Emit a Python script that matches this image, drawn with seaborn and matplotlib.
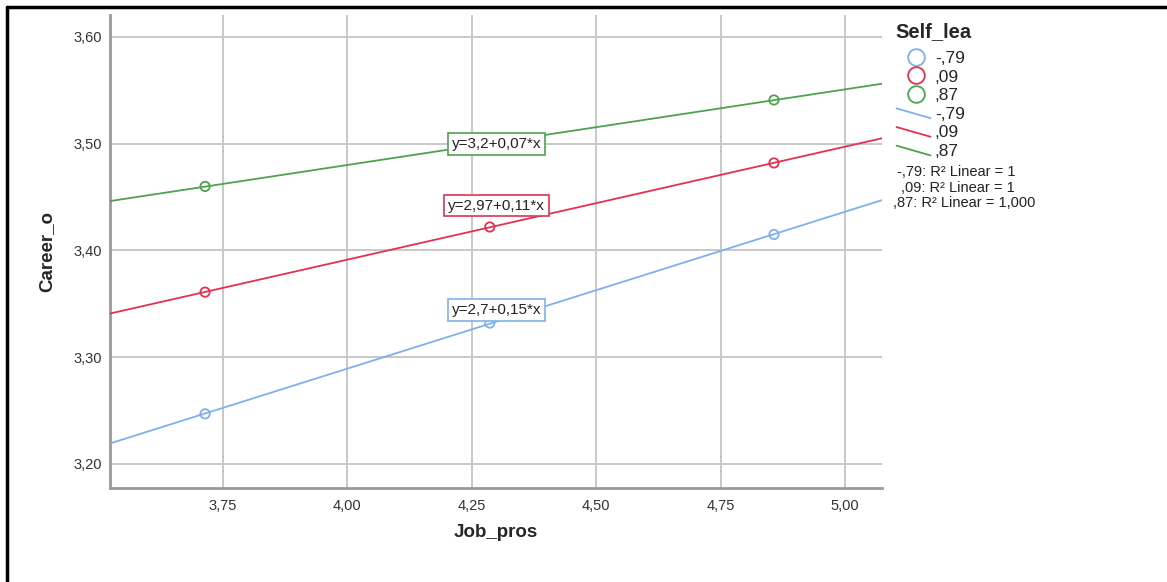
import numpy as np
import pandas as pd
import matplotlib
matplotlib.use("Agg")
import matplotlib.pyplot as plt
import seaborn as sns
from matplotlib.ticker import FuncFormatter
from matplotlib.legend_handler import HandlerLine2D
from matplotlib.lines import Line2D

# values
self_lea = ['-,79', ',09', ',87']
job_pros = [3.714, 4.286, 4.857]
career_low = [3.247, 3.332, 3.415]
career_mid = [3.361, 3.422, 3.482]
career_high = [3.460, 3.500, 3.541]
eq_labels = ['y=2,7+0,15*x', 'y=2,97+0,11*x', 'y=3,2+0,07*x']
r2_labels = ['-,79: R² Linear = 1', ',09: R² Linear = 1', ',87: R² Linear = 1,000']
colors = ['#7eb0ec', '#e5304f', '#4ea24e']

df = pd.DataFrame({
    'Job_pros': job_pros * 3,
    'Career_o': career_low + career_mid + career_high,
    'Self_lea': [s for s in self_lea for _ in job_pros],
})
palette = dict(zip(self_lea, colors))

xlim = (3.523, 5.074)
ylim = (3.1775, 3.6206)

sns.set_style("white")
plt.rcParams['font.family'] = ['Liberation Sans', 'DejaVu Sans']

fig = plt.figure(figsize=(11.67, 5.82), dpi=100)
ax = fig.add_axes([110 / 1167, 1 - 488 / 582, (882 - 110) / 1167, (488 - 15) / 582])

# fit lines across the whole x range
xs = np.array(xlim)
fit_rows = []
for lvl in self_lea:
    sub = df[df['Self_lea'] == lvl]
    b, a = np.polyfit(sub['Job_pros'], sub['Career_o'], 1)
    for x in xs:
        fit_rows.append({'Job_pros': x, 'Career_o': a + b * x, 'Self_lea': lvl})
fit_df = pd.DataFrame(fit_rows)

sns.lineplot(data=fit_df, x='Job_pros', y='Career_o', hue='Self_lea', palette=palette,
             linewidth=1.3, legend=False, ax=ax, zorder=3)
sns.scatterplot(data=df, x='Job_pros', y='Career_o', hue='Self_lea', palette=palette,
                marker='o', s=45, linewidth=1.3, legend=False, ax=ax, zorder=4)
# open circles
for coll in ax.collections:
    fc = coll.get_facecolors()
    coll.set_edgecolors(fc)
    coll.set_facecolors('none')

ax.set_xlim(xlim)
ax.set_ylim(ylim)
ax.set_xticks([3.75, 4.0, 4.25, 4.5, 4.75, 5.0])
ax.set_yticks([3.2, 3.3, 3.4, 3.5, 3.6])
comma = FuncFormatter(lambda v, p: f"{v:.2f}".replace('.', ','))
ax.xaxis.set_major_formatter(comma)
ax.yaxis.set_major_formatter(comma)
ax.tick_params(axis='both', length=0, labelsize=10.5, colors='#333333')
ax.tick_params(axis='x', pad=8)
ax.tick_params(axis='y', pad=6)
ax.grid(True, color='#c8c8c8', linewidth=1.4)
ax.set_axisbelow(True)
for side in ['top', 'right']:
    ax.spines[side].set_visible(False)
for side in ['left', 'bottom']:
    ax.spines[side].set_color('#999999')
    ax.spines[side].set_linewidth(2)

ax.set_xlabel('Job_pros', fontsize=13.5, fontweight='bold', labelpad=8)
ax.set_ylabel('Career_o', fontsize=13.5, fontweight='bold', labelpad=13)

# equation boxes
eq_y = [3.344, 3.442, 3.4998]
for lbl, yy, c in zip(eq_labels, eq_y, colors):
    ax.text(4.30, yy, lbl, ha='center', va='center', fontsize=11, color='#222222', zorder=6,
            bbox=dict(boxstyle='square,pad=0.25', facecolor='white', edgecolor=c, linewidth=1.2))


class DiagHandler(HandlerLine2D):
    def create_artists(self, legend, orig_handle, xdescent, ydescent, width, height, fontsize, trans):
        line = Line2D([-xdescent - width * 0.15, -xdescent + width * 1.0],
                      [height * 0.85, height * 0.05],
                      color=orig_handle.get_color(), linewidth=1.3, transform=trans)
        return [line]


handles = []
labels = []
for lvl, c in zip(self_lea, colors):
    handles.append(Line2D([], [], marker='o', linestyle='none', markerfacecolor='none',
                          markeredgecolor=c, markersize=12, markeredgewidth=1.3))
    labels.append(lvl)
diag_handles = []
for lvl, c in zip(self_lea, colors):
    h = Line2D([], [], color=c, linewidth=1.3)
    diag_handles.append(h)
    handles.append(h)
    labels.append(lvl)

leg = fig.legend(handles, labels, title='Self_lea', loc='upper left',
                 bbox_to_anchor=(901 / 1167, 1 - 22 / 582), frameon=False,
                 fontsize=12.5, title_fontsize=14.5, handlelength=1.7, handletextpad=0.25,
                 labelspacing=0.2, borderaxespad=0, borderpad=0,
                 handler_map={h: DiagHandler() for h in diag_handles})
leg.get_title().set_fontweight('bold')
leg._legend_box.align = 'left'
leg._legend_box.sep = 7
leg.get_title().set_x(-6)

r2_y = [172, 188, 203]
r2_x = [897, 901, 893]
for lbl, yy, xx in zip(r2_labels, r2_y, r2_x):
    fig.text(xx / 1167, 1 - yy / 582, lbl, fontsize=10.5, color='#222222', va='center', ha='left')

# black frame on the left and top, like the screenshot
fig.add_artist(Line2D([6.5 / 1167, 6.5 / 1167], [0, 1 - 6.5 / 582], color='black', linewidth=2.5,
                      transform=fig.transFigure))
fig.add_artist(Line2D([6.5 / 1167, 1], [1 - 6.5 / 582, 1 - 6.5 / 582], color='black', linewidth=2.5,
                      transform=fig.transFigure))

fig.savefig('out.png', dpi=100)
